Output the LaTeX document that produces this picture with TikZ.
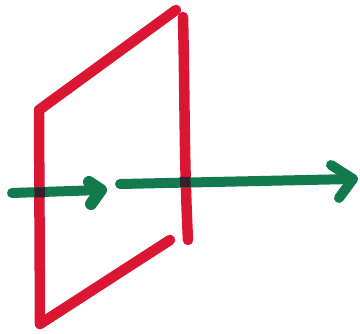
\documentclass[tikz,border=0pt]{standalone}
\usetikzlibrary{calc}
\definecolor{marker red}{RGB}{218,22,50}
\definecolor{marker green}{RGB}{18,122,76}
\definecolor{marker dark}{RGB}{55,30,45}
\tikzset{
  redstroke/.style={draw=marker red, line width=10.5pt, line cap=round, line join=round},
  greenstroke/.style={draw=marker green, line width=10pt, line cap=round, line join=round},
  darkstroke/.style={draw=marker dark, line width=10pt, line cap=butt},
}
\begin{document}
\begin{tikzpicture}[x=1pt,y=-1pt]
\useasboundingbox[fill=white] (0,0) rectangle (360,334);
% red frame
\coordinate (br) at (170,240);
\coordinate (bl) at (40,324);
\coordinate (tl) at (39,110);
\coordinate (tr) at (176,10);
\coordinate (rt) at (183,17);
\coordinate (rb) at (188,240);
\draw[redstroke] (br) -- (bl) -- (tl) -- (tr);
\draw[redstroke] (rt) .. controls (185,100) and (184,160) .. (rb);
% small green arrow
\coordinate (s0) at (12,193);
\coordinate (s1) at (101,190);
\coordinate (sa) at (89,182);
\coordinate (sb) at (91,204);
\draw[greenstroke] (s0) -- (s1);
\draw[greenstroke, line width=12pt] (sa) -- (s1) -- (sb);
% long green arrow
\coordinate (l0) at (120,184);
\coordinate (l1) at (353,179);
\coordinate (la) at (331,165);
\coordinate (lb) at (339,198);
\draw[greenstroke] (l0) -- (l1);
\draw[greenstroke] (la) -- (l1) -- (lb);
% overlaps
\coordinate (c1a) at (34.5,192.5);
\coordinate (c1b) at (45,192.3);
\coordinate (c2a) at (180,182);
\coordinate (c2b) at (190.5,181.8);
\draw[darkstroke] (c1a) -- (c1b);
\draw[darkstroke] (c2a) -- (c2b);
\end{tikzpicture}
\end{document}
